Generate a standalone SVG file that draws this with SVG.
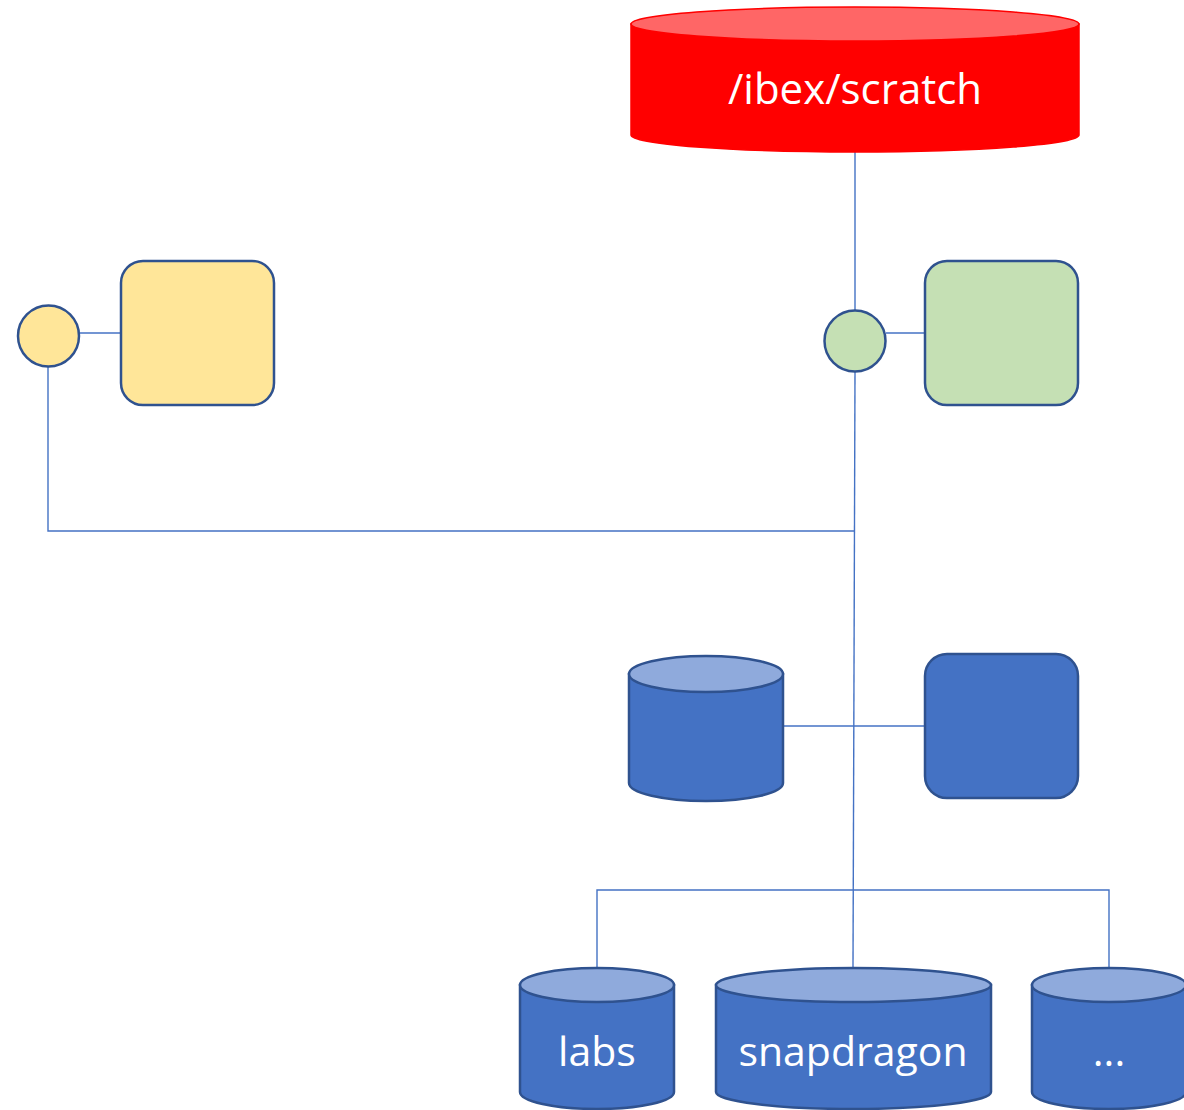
<svg xmlns="http://www.w3.org/2000/svg" width="1184" height="1110" viewBox="0 0 1184 1110">
<style>
.conn{fill:none;stroke:#4472C4;stroke-width:1.4}
.node{stroke:#2F528F;stroke-width:2.5}
.blue{fill:#4472C4}
.btop{fill:#8FAADC}
.lbl{font-family:"Open Sans","Liberation Sans",sans-serif;fill:#FFFFFF;text-anchor:middle}
</style>
<rect width="1184" height="1110" fill="#FFFFFF"/>
<g id="connectors">
<line class="conn" x1="855" y1="152" x2="855" y2="311"/>
<path class="conn" d="M855 372 L853 968"/>
<line class="conn" x1="80" y1="333" x2="121" y2="333"/>
<line class="conn" x1="886" y1="333" x2="925" y2="333"/>
<polyline class="conn" points="48,367 48,531 854,531"/>
<line class="conn" x1="784" y1="726" x2="925" y2="726"/>
<polyline class="conn" points="597,968 597,890 1109,890 1109,968"/>
</g>
<g id="scratch">
<path d="M631 24 V135 A224 17 0 0 0 1079 135 V24 Z" fill="#FF0000" stroke="#FF0000" stroke-width="1.5"/>
<ellipse cx="855" cy="24" rx="224" ry="17" fill="#FF6666" stroke="#FF0000" stroke-width="1.5"/>
<text class="lbl" x="855" y="104" font-size="42">/ibex/scratch</text>
</g>
<g id="yellow-circle"><circle class="node" cx="48.5" cy="336" r="30.5" fill="#FFE699"/></g>
<g id="yellow-box"><rect class="node" x="121" y="261" width="153" height="144" rx="22" fill="#FFE699"/></g>
<g id="green-circle"><circle class="node" cx="855" cy="341" r="30.5" fill="#C5E0B4"/></g>
<g id="green-box"><rect class="node" x="925" y="261" width="153" height="144" rx="22" fill="#C5E0B4"/></g>
<g id="blue-cylinder">
<path class="node blue" d="M629 674 V783 A77 18 0 0 0 783 783 V674 Z"/>
<ellipse class="node btop" cx="706" cy="674" rx="77" ry="18"/>
</g>
<g id="blue-box"><rect class="node blue" x="925" y="654" width="153" height="144" rx="22"/></g>
<g id="labs">
<path class="node blue" d="M520 985 V1092 A77 17 0 0 0 674 1092 V985 Z"/>
<ellipse class="node btop" cx="597" cy="985" rx="77" ry="17"/>
<text class="lbl" x="597" y="1066" font-size="41">labs</text>
</g>
<g id="snapdragon">
<path class="node blue" d="M716 985 V1092 A137.5 17 0 0 0 991 1092 V985 Z"/>
<ellipse class="node btop" cx="853.5" cy="985" rx="137.5" ry="17"/>
<text class="lbl" x="853" y="1066" font-size="41">snapdragon</text>
</g>
<g id="more">
<path class="node blue" d="M1032 985 V1092 A77 17 0 0 0 1186 1092 V985 Z"/>
<ellipse class="node btop" cx="1109" cy="985" rx="77" ry="17"/>
<text class="lbl" x="1109" y="1066" font-size="41">...</text>
</g>
</svg>
